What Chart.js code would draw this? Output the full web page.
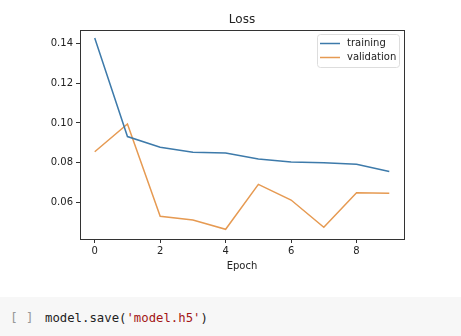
<!DOCTYPE html>
<html><head><meta charset="utf-8">
<script src="https://cdn.jsdelivr.net/npm/chart.js@4/dist/chart.umd.min.js"></script>
<style>
html,body{margin:0;padding:0;background:#fff;width:461px;height:336px;overflow:hidden}
#wrap{position:absolute;left:0;top:0;width:461px;height:276px}
#cell{position:absolute;left:0;top:297px;width:461px;height:39px;background:#f7f7f7}
#br{position:absolute;left:10px;top:13px;font:13px "DejaVu Sans Mono",monospace;color:#999}
#code{position:absolute;left:45px;top:14px;font:12.3px "DejaVu Sans Mono",monospace;color:#222}
#code .s{color:#a31515}
</style></head><body>
<div id="wrap"><canvas id="c" width="461" height="276"></canvas></div>
<div id="cell"><span id="br">[ ]</span><span id="code">model.save(<span class="s">'model.h5'</span>)</span></div>
<script>
const epochs = [0,1,2,3,4,5,6,7,8,9];
const training = [0.1430,0.0931,0.0877,0.0852,0.0848,0.0818,0.0803,0.0798,0.0791,0.0754];
const validation = [0.0854,0.0995,0.0528,0.0509,0.0462,0.0689,0.0610,0.0472,0.0647,0.0644];
const xTicks = [0,2,4,6,8];
const yTicks = [0.06,0.08,0.10,0.12,0.14];
const seriesNames = ['training','validation'];
const chartTitle = 'Loss';
const xTitle = 'Epoch';

const FONT = 'DejaVu Sans';
const colors = ['#3d7aaa','#e69a52'];

const framePlugin = {
  id:'frame',
  afterDraw(chart){
    const {ctx, chartArea:a} = chart;
    ctx.save();
    ctx.strokeStyle='#333'; ctx.lineWidth=1;
    ctx.strokeRect(a.left+0.5, a.top+0.5, a.right-a.left, a.bottom-a.top);
    // title
    ctx.fillStyle='#222'; ctx.font='12px "'+FONT+'"'; ctx.textAlign='center'; ctx.textBaseline='middle';
    ctx.fillText(chartTitle,(a.left+a.right)/2, 20);
    // legend
    const bx=317, by=34, bw=82, bh=33;
    ctx.strokeStyle='#dddddd'; ctx.fillStyle='rgba(255,255,255,0.8)';
    ctx.beginPath(); ctx.roundRect(bx+0.5,by+0.5,bw,bh,3); ctx.fill(); ctx.stroke();
    ctx.font='10px "'+FONT+'"'; ctx.textAlign='left';
    chart.data.datasets.forEach((ds,i)=>{
      const y = by+9.5+i*14;
      ctx.strokeStyle=ds.borderColor; ctx.lineWidth=1.5;
      ctx.beginPath(); ctx.moveTo(bx+3,y); ctx.lineTo(bx+23,y); ctx.stroke();
      ctx.fillStyle='#222'; ctx.fillText(ds.label,bx+30,y);
    });
    ctx.restore();
  }
};

new Chart(document.getElementById('c'),{
  type:'line',
  data:{datasets:[
    {label:seriesNames[0],data:epochs.map((e,i)=>({x:e,y:training[i]})),borderColor:colors[0],borderWidth:1.5,pointRadius:0,tension:0,fill:false},
    {label:seriesNames[1],data:epochs.map((e,i)=>({x:e,y:validation[i]})),borderColor:colors[1],borderWidth:1.5,pointRadius:0,tension:0,fill:false}
  ]},
  options:{
    responsive:false,animation:false,
    layout:{padding:{left:0,right:57,top:30,bottom:0}},
    plugins:{legend:{display:false},title:{display:false},tooltip:{enabled:false}},
    scales:{
      x:{type:'linear',min:-0.45,max:9.45,
        afterFit(s){s.height=37;},
        afterBuildTicks(s){s.ticks=xTicks.map(v=>({value:v}));},
        grid:{display:true,drawOnChartArea:false,drawTicks:true,tickLength:4,color:'#333'},
        border:{display:true,color:'#333'},
        ticks:{color:'#222',font:{family:FONT,size:10},padding:2,maxRotation:0,callback:v=>String(v)},
        title:{display:true,text:xTitle,color:'#222',font:{family:FONT,size:10},padding:{top:0,bottom:4}}
      },
      y:{type:'linear',min:0.0413,max:0.147,
        afterFit(s){s.width=80;},
        afterBuildTicks(s){s.ticks=yTicks.map(v=>({value:v}));},
        grid:{display:true,drawOnChartArea:false,drawTicks:true,tickLength:4,color:'#333'},
        border:{display:true,color:'#333'},
        ticks:{color:'#222',font:{family:FONT,size:10},padding:3,callback:v=>v.toFixed(2)}
      }
    }
  },
  plugins:[framePlugin]
});
</script>
</body></html>
